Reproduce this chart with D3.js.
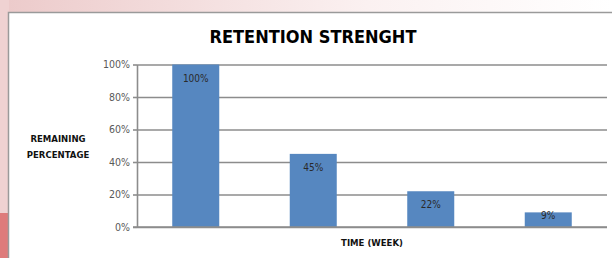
<!DOCTYPE html>
<html>
<head>
<meta charset="utf-8">
<script src="https://cdn.jsdelivr.net/npm/d3@7"></script>
<style>
  html, body { margin: 0; padding: 0; background: #fff; }
  svg { display: block; }
</style>
</head>
<body>
<div id="chart"></div>
<script>
// Chart data
const weeks = ['Week 1', 'Week 2', 'Week 3', 'Week 4'];
const retention = [100, 45, 22, 9];
const yTicks = [0, 20, 40, 60, 80, 100];

const W = 612;
const H = 258;
const font = "'Liberation Sans Narrow', 'DejaVu Sans Condensed', 'Liberation Sans', sans-serif";

const svg = d3.select('#chart')
  .append('svg')
  .attr('width', W)
  .attr('height', H);

// Slide background: pink gradient across the top, pink strip down the left
const defs = svg.append('defs');
const grad = defs.append('linearGradient').attr('id', 'topfade');
grad.append('stop').attr('offset', '0%').attr('stop-color', '#eccaca');
grad.append('stop').attr('offset', '60%').attr('stop-color', '#fbf1f1');
grad.append('stop').attr('offset', '100%').attr('stop-color', '#ffffff');

svg.append('rect').attr('x', 0).attr('y', 0).attr('width', W).attr('height', 14)
  .attr('fill', 'url(#topfade)');
svg.append('rect').attr('x', 0).attr('y', 0).attr('width', 9).attr('height', 213)
  .attr('fill', '#efd2d2');
svg.append('rect').attr('x', 0).attr('y', 213).attr('width', 9).attr('height', H - 213)
  .attr('fill', '#de7b7b');

// Chart frame
svg.append('rect')
  .attr('x', 8.5).attr('y', 12.5)
  .attr('width', W + 20).attr('height', H + 20)
  .attr('fill', '#fff')
  .attr('stroke', '#9a9a9a')
  .attr('stroke-width', 1.5);

// Scales
const x = d3.scaleBand()
  .domain(weeks)
  .range([137, 607])
  .paddingInner(0.6)
  .paddingOuter(0.3);

const y = d3.scaleLinear()
  .domain([0, 100])
  .range([227, 64.5]);

// Gridlines + y axis
const yAxis = d3.axisLeft(y)
  .tickValues(yTicks)
  .tickSize(-(607 - 137))
  .tickSizeOuter(0)
  .tickPadding(7)
  .tickFormat((d) => `${d}%`);

const gy = svg.append('g')
  .attr('transform', 'translate(137,0)')
  .call(yAxis);
gy.select('.domain').attr('stroke', '#8c8c8c').attr('stroke-width', 1.6);
gy.selectAll('.tick line').attr('stroke', '#8c8c8c').attr('stroke-width', 1.6);
gy.selectAll('.tick').append('line')
  .attr('x1', -4).attr('x2', 0)
  .attr('stroke', '#8c8c8c').attr('stroke-width', 1.6);
gy.selectAll('.tick text')
  .attr('fill', '#595959')
  .style('font-family', font)
  .style('font-size', '10.5px');

// Bars
svg.selectAll('rect.bar')
  .data(retention)
  .enter()
  .append('rect')
  .attr('class', 'bar')
  .attr('x', (d, i) => x(weeks[i]))
  .attr('y', (d) => y(d))
  .attr('width', x.bandwidth())
  .attr('height', (d) => y(0) - y(d))
  .attr('fill', '#5687c0');

// Redraw baseline above the bars
svg.append('line')
  .attr('x1', 133).attr('x2', 607)
  .attr('y1', y(0)).attr('y2', y(0))
  .attr('stroke', '#8c8c8c').attr('stroke-width', 1.6);

// Value labels inside bars
svg.selectAll('text.val')
  .data(retention)
  .enter()
  .append('text')
  .attr('class', 'val')
  .attr('x', (d, i) => x(weeks[i]) + x.bandwidth() / 2)
  .attr('y', (d) => y(d) + Math.min(17, (y(0) - y(d)) * 0.47))
  .attr('text-anchor', 'middle')
  .attr('fill', '#2a2a2a')
  .style('font-family', font)
  .style('font-size', '10px')
  .text((d) => `${d}%`);

// Title
svg.append('text')
  .attr('x', 313)
  .attr('y', 43)
  .attr('text-anchor', 'middle')
  .attr('fill', '#000')
  .style('font-family', font)
  .style('font-size', '18px')
  .style('font-weight', 'bold')
  .text('RETENTION STRENGHT');

// Axis titles
const yTitle = svg.append('text')
  .attr('text-anchor', 'middle')
  .attr('fill', '#111')
  .style('font-family', font)
  .style('font-size', '9.5px')
  .style('font-weight', 'bold');
yTitle.append('tspan').attr('x', 58).attr('y', 142).text('REMAINING');
yTitle.append('tspan').attr('x', 58).attr('y', 158).text('PERCENTAGE');

svg.append('text')
  .attr('x', 372)
  .attr('y', 246)
  .attr('text-anchor', 'middle')
  .attr('fill', '#111')
  .style('font-family', font)
  .style('font-size', '9.5px')
  .style('font-weight', 'bold')
  .text('TIME (WEEK)');
</script>
</body>
</html>
